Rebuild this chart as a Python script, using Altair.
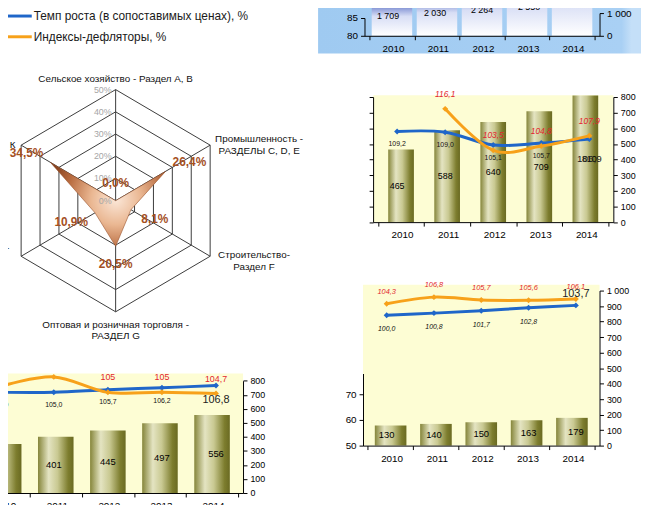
import altair as alt
import pandas as pd

FONT = "Liberation Sans"
W, H = 641, 497
SHIFT = 8  # page margin: reference pixel -> chart pixel


def px(v):
    return v - SHIFT


# ---------------- data ----------------
years = [2010, 2011, 2012, 2013, 2014]
series_names = ["Темп роста (в сопоставимых ценах), %", "Индексы-дефляторы, %"]
series_colors = ["#1f66c9", "#f7a11a"]

top_bars = [1709, 2030, 2264, 2550, 2901]
top_left_ticks = [80, 85]
top_right_ticks = [0, 1000]

mid_bars = [465, 588, 640, 709, 810]
mid_growth = [109.2, 109.0, 105.1, 105.7, 106.9]
mid_deflator = [None, 116.1, 103.5, 104.8, 107.9]
mid_right_ticks = [0, 100, 200, 300, 400, 500, 600, 700, 800]

br_bars = [130, 140, 150, 163, 179]
br_growth = [100.0, 100.8, 101.7, 102.8, 103.7]
br_deflator = [104.3, 106.8, 105.7, 105.6, 106.1]
br_right_ticks = [0, 100, 200, 300, 400, 500, 600, 700, 800, 900, 1000]
br_left_ticks = [50, 60, 70]

bl_bars = [350, 401, 445, 497, 556]
bl_growth = [105.0, 105.0, 105.7, 106.2, 106.8]
bl_deflator = [106.5, 109.1, 105.0, 105.0, 104.7]
bl_deflator_labels = ["", "", "105", "105", "104,7"]
bl_right_ticks = [0, 100, 200, 300, 400, 500, 600, 700, 800]

radar_categories = [
    "Сельское хозяйство - Раздел A, B",
    "Промышленность -\nРАЗДЕЛЫ C, D, E",
    "Строительство-\nРаздел F",
    "Оптовая и розничная торговля -\nРАЗДЕЛ G",
    "Транспорт и связь -\nРАЗДЕЛ I",
    "Прочие виды деятельности по ОКВЭД К",
]
radar_values = [0.0, 26.4, 8.1, 20.5, 10.9, 34.5]
radar_levels = [0, 10, 20, 30, 40, 50]

# ---------------- styles ----------------
YELLOW = "#fdfdd4"
RED = "#e3262e"
OLIVE = {"gradient": "linear", "x1": 0, "y1": 0, "x2": 1, "y2": 0, "stops": [
    {"offset": 0, "color": "#85853a"}, {"offset": 0.3, "color": "#e4e4c2"},
    {"offset": 0.55, "color": "#c9c992"}, {"offset": 0.85, "color": "#7d7d2e"},
    {"offset": 1, "color": "#6a6a22"}]}
BLUEBAR = {"gradient": "linear", "x1": 0, "y1": 0, "x2": 0, "y2": 1, "stops": [
    {"offset": 0, "color": "#2440b0"}, {"offset": 0.5, "color": "#d8def5"},
    {"offset": 1, "color": "#ffffff"}]}
PANEL = {"gradient": "linear", "x1": 0, "y1": 0, "x2": 1, "y2": 0, "stops": [
    {"offset": 0, "color": "#9fcaf1"}, {"offset": 0.94, "color": "#a9d0f4"},
    {"offset": 0.97, "color": "#c4dff8"}, {"offset": 1, "color": "#c4dff8"}]}
RADAR_FILL = {"gradient": "radial", "x1": 0.57, "y1": 0.46, "r1": 0,
              "x2": 0.57, "y2": 0.46, "r2": 0.62, "stops": [
                  {"offset": 0, "color": "#fbe7d8"}, {"offset": 0.35, "color": "#eab792"},
                  {"offset": 0.7, "color": "#b86b3f"}, {"offset": 1, "color": "#7e3a18"}]}

AXIS_BASE = dict(grid=False, title=None, zindex=1, domainColor="#000000",
                 tickColor="#000000", labelColor="#000000", labelFont=FONT,
                 labelOverlap=False, labelFlush=False, tickSize=4)

LEGEND = alt.Legend(orient="none", legendX=1, legendY=-5.5, title=None,
                    symbolType="M-1.45,0H1.45", symbolSize=300, symbolStrokeWidth=3,
                    labelFont=FONT, labelFontSize=12, labelColor="#1a1a1a",
                    labelLimit=400, labelOffset=4, rowPadding=4, padding=0)
COLOR = alt.Color("series:N", scale=alt.Scale(domain=series_names, range=series_colors),
                  legend=LEGEND)


def lin(domain, rng):
    return alt.Scale(domain=list(domain), range=list(rng), nice=False, zero=False)


def right_axis(x_ref, values, size=9):
    return alt.Axis(orient="right", offset=px(x_ref) - W, values=values,
                    labelPadding=3, labelFontSize=size,
                    labelExpr="replace(format(datum.value, ','), ',', ' ')", **AXIS_BASE)


def left_axis(x_ref, values, labels=True, size=9):
    return alt.Axis(orient="left", offset=-px(x_ref), values=values, labels=labels,
                    labelPadding=3, labelFontSize=size, **AXIS_BASE)


def year_axis(y_ref, step):
    vals = [y - 0.5 for y in years] + [years[-1] + 0.5]
    return alt.Axis(orient="bottom", offset=px(y_ref) - H, values=vals,
                    labelPadding=4, labelFontSize=10, labelOffset=step / 2,
                    labelExpr="datum.value < %d ? format(datum.value + 0.5, 'd') : ''" % years[-1],
                    **AXIS_BASE)


def thousands(v):
    return "{:,}".format(v).replace(",", " ")


def dec(v):
    return "{:.1f}".format(v).replace(".", ",")


units = []

# ---------------- top-right panel ----------------
A_L, A_R, A_BASE, A_TOP = 369, 607, 33, 10
a_step = (A_R - A_L) / len(years)
a_ppu = (A_BASE - A_TOP) / 1000.0
a_xs = lin([years[0] - 0.5, years[-1] + 0.5], [px(A_L), px(A_R)])
a_yb = lin([0, 1000], [px(A_BASE), px(A_TOP)])
a_yl = lin([80, 85], [px(A_BASE), px(15)])
panel_df = pd.DataFrame({
    "x0": [years[0] - 0.5 - (A_L - 322) / a_step],
    "x1": [years[-1] + 0.5 + (649 - A_R) / a_step],
    "y0": [-(51 - A_BASE) / a_ppu], "y1": [4000]})
units.append(alt.Chart(panel_df).mark_rect(fill=PANEL).encode(
    x=alt.X("x0:Q", scale=a_xs, axis=None), x2="x1:Q",
    y=alt.Y("y0:Q", scale=a_yb, axis=None), y2="y1:Q"))
a_df = pd.DataFrame({"year": years, "value": top_bars, "label": [thousands(v) for v in top_bars]})
units.append(alt.Chart(a_df).mark_bar(size=41, fill=BLUEBAR, orient="vertical").encode(
    x=alt.X("year:Q", scale=a_xs, axis=year_axis(A_BASE, a_step)),
    y=alt.Y("value:Q", scale=a_yb, axis=right_axis(A_R, top_right_ticks, 10)),
    y2=alt.datum(0)))
units.append(alt.Chart(a_df).transform_calculate(mid="datum.value / 2").mark_text(
    fontSize=9, color="#000000").encode(
    x=alt.X("year:Q", scale=a_xs, axis=None),
    y=alt.Y("mid:Q", scale=a_yb, axis=None), text="label:N"))
units.append(alt.Chart(pd.DataFrame({"v": top_left_ticks})).mark_point(opacity=0).encode(
    y=alt.Y("v:Q", scale=a_yl, axis=left_axis(A_L, top_left_ticks, True, 10))))

# ---------------- radar ----------------
N = len(radar_categories)
RMAX = max(radar_levels)
RCX, RCY, RSX, RSY = px(117), px(200), 2.21, 2.25
rxs = lin([-60, 60], [RCX - 60 * RSX, RCX + 60 * RSX])
rys = lin([-60, 60], [RCY + 60 * RSY, RCY - 60 * RSY])


def RX(f):
    return alt.X(f, scale=rxs, axis=None)


def RY(f):
    return alt.Y(f, scale=rys, axis=None)


ANG = "datum.idx * 2 * PI / %d" % N
ring_df = pd.DataFrame([{"level": L, "idx": k} for L in radar_levels if L > 0 for k in range(N + 1)])
units.append(alt.Chart(ring_df).transform_calculate(
    a=ANG, x="datum.level * sin(datum.a)", y="datum.level * cos(datum.a)").mark_line(
    color="#3a3a3a", strokeWidth=1).encode(
    x=RX("x:Q"), y=RY("y:Q"), detail="level:N", order="idx:Q"))
rdf = pd.DataFrame({"idx": list(range(N)), "cat": radar_categories, "value": radar_values})
units.append(alt.Chart(rdf).transform_calculate(
    a=ANG, x0="0", y0="0", x1="%d * sin(datum.a)" % RMAX, y1="%d * cos(datum.a)" % RMAX
).mark_rule(color="#3a3a3a", strokeWidth=1).encode(
    x=RX("x0:Q"), y=RY("y0:Q"), x2="x1:Q", y2="y1:Q"))
units.append(alt.Chart(rdf).transform_calculate(
    a=ANG, x="datum.value * sin(datum.a)", y="datum.value * cos(datum.a)").mark_line(
    fill=RADAR_FILL, stroke="#9a532c", strokeWidth=0.6, interpolate="linear-closed").encode(
    x=RX("x:Q"), y=RY("y:Q"), order="idx:Q"))
lev_df = pd.DataFrame({"level": radar_levels})
units.append(alt.Chart(lev_df).transform_calculate(x="0", label="datum.level + '%'").mark_text(
    align="right", dx=-4, fontSize=9, color="#a6a6a6").encode(
    x=RX("x:Q"), y=RY("level:Q"), text="label:N"))
units.append(alt.Chart(rdf).transform_calculate(
    a=ANG, r="datum.value + 8",
    x="datum.r * sin(datum.a) + 4 * (abs(sin(datum.a)) > 0.1 ? (sin(datum.a) > 0 ? 1 : -1) : 0)",
    y="datum.r * cos(datum.a)",
    label="replace(format(datum.value, '.1f'), '.', ',') + '%'").mark_text(
    fontSize=12, fontWeight="bold", color="#a4501f").encode(
    x=RX("x:Q"), y=RY("y:Q"), text="label:N"))
cat_base = alt.Chart(rdf).transform_calculate(a=ANG, s="sin(datum.a)", c="cos(datum.a)")
TXT = dict(fontSize=10, lineBreak="\n", lineHeight=12, color="#111111")
units.append(cat_base.transform_filter("datum.c > 0.9").transform_calculate(
    x="0", y=str(RMAX)).mark_text(baseline="bottom", dy=-6, **TXT).encode(
    x=RX("x:Q"), y=RY("y:Q"), text="cat:N"))
units.append(cat_base.transform_filter("datum.c < -0.9").transform_calculate(
    x="0", y=str(-RMAX)).mark_text(baseline="top", dy=8, **TXT).encode(
    x=RX("x:Q"), y=RY("y:Q"), text="cat:N"))
units.append(cat_base.transform_filter("abs(datum.c) <= 0.9").transform_calculate(
    n="max(length(split(datum.cat, '\\n')[0]), length(peek(split(datum.cat, '\\n'))))",
    l="length(split(datum.cat, '\\n'))",
    sh="datum.c > 0 ? 6 : (datum.s > 0 ? 1 : 8)",
    x="%d * datum.s + (datum.s > 0 ? 1 : -1) * (8 + datum.n * 2.6) / %s" % (RMAX, RSX),
    y="%d * datum.c + (datum.l - 1) * datum.sh / %s" % (RMAX, RSY)).mark_text(
    align="center", baseline="middle", **TXT).encode(
    x=RX("x:Q"), y=RY("y:Q"), text="cat:N"))


# ---------------- combo charts ----------------
def combo(P, bars, growth, deflator, deflator_labels=None):
    x0, x1 = years[0] - 0.5, years[-1] + 0.5
    step = (P["x_right"] - P["x_left"]) / len(years)
    xs = lin([x0, x1], [px(P["x_left"]), px(P["x_right"])])
    yb = lin(P["bar_dom"], [px(P["bar_rng"][0]), px(P["bar_rng"][1])])
    yl = lin(P["line_dom"], [px(P["line_rng"][0]), px(P["line_rng"][1])])

    def X(f):
        return alt.X(f, scale=xs, axis=None)

    out = []
    bg = pd.DataFrame({"x0": [x0], "x1": [x1], "y0": [0], "y1": [P["bg_top"]]})
    left = left_axis(P["x_left"], P["right_ticks"], labels=False) if P["left_ticks"] else None
    out.append(alt.Chart(bg).mark_rect(fill=YELLOW).encode(
        x=X("x0:Q"), x2="x1:Q", y=alt.Y("y0:Q", scale=yb, axis=left), y2="y1:Q"))
    bdf = pd.DataFrame({"year": years, "value": bars, "label": [thousands(v) for v in bars]})
    out.append(alt.Chart(bdf).mark_bar(size=P["bar_w"], fill=OLIVE, orient="vertical").encode(
        x=alt.X("year:Q", scale=xs, axis=year_axis(P["bar_rng"][0], step)),
        y=alt.Y("value:Q", scale=yb, axis=right_axis(P["x_right"], P["right_ticks"])),
        y2=alt.datum(0)))
    out.append(alt.Chart(bdf).transform_calculate(mid="datum.value / 2").mark_text(
        fontSize=P["bar_fs"], color="#000000").encode(
        x=X("year:Q"), y=alt.Y("mid:Q", scale=yb, axis=None), text="label:N"))
    rows = []
    for i, (yr, g, d) in enumerate(zip(years, growth, deflator)):
        rows.append({"year": yr, "series": series_names[0], "value": g,
                     "label": dec(g), "last": i == len(years) - 1})
        if d is not None:
            lab = deflator_labels[i] if deflator_labels else dec(d)
            rows.append({"year": yr, "series": series_names[1], "value": d,
                         "label": lab, "last": False})
    ldf = pd.DataFrame(rows)
    Y = alt.Y("value:Q", scale=yl, axis=None)
    out.append(alt.Chart(ldf).mark_line(interpolate="cardinal", strokeWidth=3).encode(
        x=X("year:Q"), y=Y, color=COLOR))
    out.append(alt.Chart(ldf).mark_point(shape="diamond", filled=True, size=36, opacity=1).encode(
        x=X("year:Q"), y=Y, color=COLOR))
    out.append(alt.Chart(ldf).transform_filter(
        alt.FieldEqualPredicate(field="series", equal=series_names[1])).mark_text(
        dy=P["d_dy"], fontSize=P["d_fs"], fontStyle=P["d_style"], color=RED).encode(
        x=X("year:Q"), y=Y, text="label:N"))
    g_base = alt.Chart(ldf).transform_filter(
        alt.FieldEqualPredicate(field="series", equal=series_names[0]))
    out.append(g_base.transform_filter("!datum.last").mark_text(
        dy=P["g_dy"], fontSize=P["g_fs"], fontStyle=P["g_style"], color="#111111").encode(
        x=X("year:Q"), y=Y, text="label:N"))
    out.append(g_base.transform_filter("datum.last").mark_text(
        dy=P["last_dy"], fontSize=P["last_fs"], color="#222222").encode(
        x=X("year:Q"), y=Y, text="label:N"))
    return out


MID = dict(x_left=377.7, x_right=621, bar_dom=[0, 800], bar_rng=[221.7, 95],
           line_dom=[100, 120], line_rng=[160.6, 94], bg_top=812, bar_w=26, bar_fs=9,
           right_ticks=mid_right_ticks, left_ticks=True,
           d_dy=-15, d_fs=8.5, d_style="italic", g_dy=13, g_fs=7, g_style="normal",
           last_dy=20, last_fs=10)
BR = dict(x_left=367.5, x_right=607, bar_dom=[0, 1000], bar_rng=[448, 291],
          line_dom=[95, 110], line_rng=[329.5, 289], bg_top=1038, bar_w=32, bar_fs=9.5,
          right_ticks=br_right_ticks, left_ticks=False,
          d_dy=-12, d_fs=7.5, d_style="italic", g_dy=14, g_fs=7, g_style="italic",
          last_dy=-11, last_fs=11)
BL = dict(x_left=-27.75, x_right=246, bar_dom=[0, 800], bar_rng=[496, 382.3],
          line_dom=[100, 115], line_rng=[413, 356], bg_top=851, bar_w=36, bar_fs=9.5,
          right_ticks=bl_right_ticks, left_ticks=False,
          d_dy=-15, d_fs=9, d_style="normal", g_dy=13, g_fs=7, g_style="normal",
          last_dy=15, last_fs=11)

units += combo(MID, mid_bars, mid_growth, mid_deflator)
units += combo(BR, br_bars, br_growth, br_deflator)
units += combo(BL, bl_bars, bl_growth, bl_deflator, bl_deflator_labels)

# extra left axis of the overlapped chart (bottom-right)
c_yl = lin([50, 78], [px(448), px(375)])
units.append(alt.Chart(pd.DataFrame({"v": br_left_ticks})).mark_point(opacity=0).encode(
    y=alt.Y("v:Q", scale=c_yl, axis=left_axis(367.5, br_left_ticks, True, 10))))

chart = alt.layer(*units).resolve_scale(x="independent", y="independent").properties(
    width=W, height=H, autosize=alt.AutoSizeParams(type="none"), padding=0,
    background="white").configure(font=FONT).configure_view(stroke=None)

chart.save("out.html", embed_options={"renderer": "svg", "actions": False})
